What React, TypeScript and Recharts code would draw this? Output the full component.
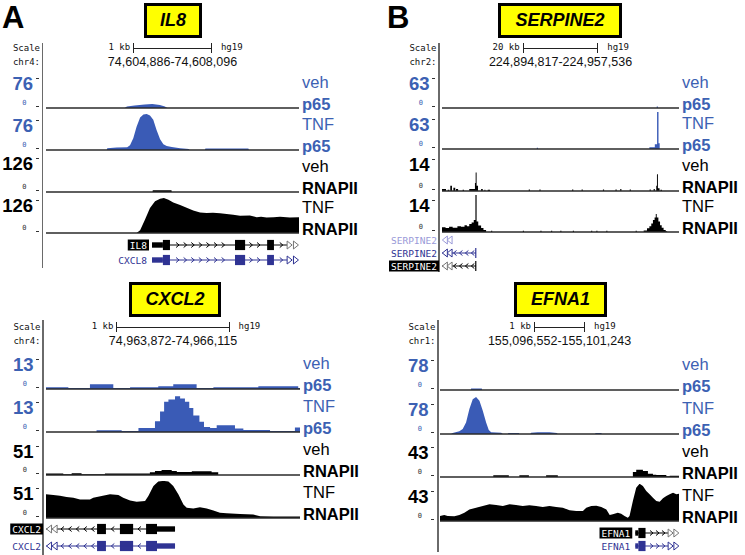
import React from 'react';
import {
  AreaChart,
  Area,
  XAxis,
  YAxis,
  ReferenceLine,
  ReferenceArea,
  ComposedChart,
  Scatter,
} from 'recharts';

type Pt = [number, number];

// ---------- signal data: [position % of window, signal] ----------
const IL8_VEH_P65: Pt[] = [[0, 0], [31, 0], [32, 3], [35, 5], [39, 7], [42, 8], [45, 6], [47, 3], [48, 0], [100, 0]];
const IL8_TNF_P65: Pt[] = [[0, 0], [24, 0], [24.2, 3.4], [27.9, 5], [32.1, 5.5], [33.2, 10], [34.5, 24], [35.8, 48], [37.2, 67], [38.5, 73], [39.8, 74], [41.1, 71], [42.4, 62], [43.7, 41], [45.1, 22], [46.4, 12], [47.7, 8], [49.7, 6], [53, 3.4], [56.5, 2], [56.7, 0], [62.8, 0], [63, 3], [80, 3], [80.2, 0], [100, 0]];
const IL8_VEH_POL2: Pt[] = [[0, 0], [42.1, 0], [42.2, 6], [49.6, 6], [49.7, 0], [100, 0]];
const IL8_TNF_POL2: Pt[] = [[0, 0], [35.8, 0], [37.2, 9], [39.1, 45], [41.1, 85], [43.1, 108], [45.1, 117], [46.6, 119], [48.4, 113], [50.3, 104], [53, 95], [55.6, 86], [58.2, 77], [60.9, 70], [63.5, 68], [66, 69], [68.8, 67], [71.4, 65], [74, 62], [76.7, 59], [80.6, 60], [83.3, 54], [85, 55], [87.2, 53], [90, 54], [92.5, 55], [96.4, 53], [100, 54]];

const SERP_VEH_P65: Pt[] = [[0, 0], [90.6, 2.5], [91.1, 0], [100, 0]];
const SERP_TNF_P65: Pt[] = [[0, 0], [40.0, 2], [40.5, 0], [87.5, 3], [89.8, 8], [90.75, 63], [91.35, 10], [91.85, 0], [100, 0]];
const SERP_VEH_POL2: Pt[] = [[0, 0.8], [1.7, 0], [2.4, 0.5], [3.1, 0], [3.5, 2], [4.2, 0], [4.8, 1.2], [5.6, 0], [5.9, 0.8], [6.8, 0], [8.7, 0.5], [9.3, 0], [11.5, 0.8], [13.9, 3], [14.2, 7], [14.6, 2], [15.2, 0], [16.5, 0.8], [17.2, 0], [17.9, 0.5], [18.3, 0], [19.3, 0.5], [20.3, 0], [36.6, 0.6], [37.1, 0], [41.1, 0.6], [41.6, 0], [54.9, 0.6], [55.4, 0], [58.9, 0.6], [59.4, 0], [67.9, 0.6], [68.4, 0], [73.2, 0.6], [73.7, 0], [75.2, 0.8], [75.7, 0], [79.2, 0.6], [79.7, 0], [87.6, 0.6], [88.1, 0], [89.3, 0.8], [89.8, 0], [90.4, 2], [90.7, 6.3], [91.1, 1], [91.8, 0], [92.2, 0.5], [92.8, 0], [100, 0]];
const SERP_TNF_POL2: Pt[] = [[0, 1.8], [1.5, 1.5], [3, 2], [4.5, 1.6], [6.5, 2.2], [8, 2], [9.5, 2.6], [10.5, 2.2], [11.5, 3], [12.5, 3.6], [13.4, 4.5], [14.1, 14], [14.6, 4], [15.3, 2.5], [16.5, 1.5], [17.5, 0.8], [18.6, 0], [20.7, 0.5], [21.2, 0], [34.1, 0.5], [34.6, 0], [41.5, 0.5], [42, 0], [46, 0.5], [46.5, 0], [49.9, 0.5], [50.4, 0], [55.2, 0.5], [55.7, 0], [62.9, 0.5], [63.4, 0], [65.1, 0.5], [65.6, 0], [69.3, 0.5], [69.8, 0], [81.7, 0.5], [82.2, 0], [85.1, 0.6], [86.5, 1.4], [87.5, 2.2], [88.3, 3.2], [89, 4.5], [89.7, 5.5], [90.2, 6.8], [90.6, 5.5], [91.3, 4], [92, 2.6], [92.7, 1.6], [93.5, 0.8], [94.4, 0.3], [95, 0], [100, 0]];

const CXCL2_VEH_P65: Pt[] = [[0, 0.6], [8.8, 0.36], [17.3, 1.7], [26.5, 0.36], [33.1, 0.6], [44.2, 1.0], [50.1, 1.7], [59.3, 0.36], [65.9, 0.6], [83.6, 1.0], [99.3, 0.36], [100, 0.36]];
const CXCL2_TNF_P65: Pt[] = [[0, 0], [19.9, 0.6], [29.8, 0.36], [36.4, 1.4], [42.9, 3.8], [44.9, 7.2], [46.5, 10.6], [48.2, 11.4], [50.8, 12.6], [52.8, 11.8], [54.7, 10.6], [56.4, 8.4], [58.0, 5.8], [60.4, 3.6], [62.2, 1.8], [64.6, 1.4], [67.2, 2.4], [74.4, 1.2], [77.7, 0.7], [88.2, 0.36], [98.0, 1.6], [100, 1.6]];
const CXCL2_VEH_POL2: Pt[] = [[0, 1.9], [6.8, 0.9], [10.1, 2.3], [14.0, 0.9], [23.2, 1.9], [40.9, 3.7], [42.9, 5.6], [45.5, 7], [49.5, 5.6], [51.5, 4.2], [57.4, 5.1], [65.2, 3.7], [67.8, 0], [100, 0]];
const CXCL2_TNF_POL2: Pt[] = [[0, 32.6], [2.9, 31.6], [5.5, 30.7], [8.1, 28.8], [10.8, 27.9], [13.4, 25.6], [17.3, 25.6], [18.6, 27.9], [21.9, 30.2], [25.2, 32.6], [28.5, 31.6], [30.4, 27.9], [33.1, 24.2], [35.7, 22.3], [39.0, 23.3], [40.3, 30.2], [42.3, 44.2], [44.2, 50.2], [46.2, 51.2], [48.2, 50.2], [50.1, 44.2], [52.1, 32.6], [54.1, 18.6], [55.4, 14], [58.0, 13], [60.6, 14.9], [63.3, 13], [65.9, 10.2], [68.5, 7.4], [71.1, 6.5], [76.4, 5.6], [81.6, 4.7], [84.3, 2.3], [89.5, 1.9], [100, 1.9]];

const EFNA1_VEH_P65: Pt[] = [[0, 0], [12.9, 0], [13.0, 3], [17.5, 3], [17.6, 0], [100, 0]];
const EFNA1_TNF_P65: Pt[] = [[0, 0], [4.6, 0], [5.3, 2.1], [8.1, 5.6], [9.5, 10.5], [10.9, 24.5], [12.3, 52.5], [13.7, 73.5], [15.1, 78], [16.5, 70], [17.9, 49], [19.3, 24.5], [20.4, 8.4], [21.4, 3.5], [25.6, 2.8], [26.3, 0], [28.4, 0], [28.6, 2.1], [33.0, 2.1], [33.2, 0], [37.8, 0], [38.1, 2.8], [40.9, 3.5], [45.8, 3.5], [48.9, 2.1], [49.2, 0], [64.9, 0], [65.1, 2.1], [67.5, 2.1], [67.7, 0], [100, 0]];
const EFNA1_VEH_POL2: Pt[] = [[0, 0], [22.3, 1.9], [28.8, 0], [33.2, 1.9], [37.2, 0], [44.4, 1.9], [49.3, 0], [80.7, 5.8], [82.1, 8.5], [84.9, 7], [87.0, 3.9], [89.1, 2.7], [90.5, 2.3], [94.7, 0.8], [96.1, 1.5], [100, 1.5]];
const EFNA1_TNF_POL2: Pt[] = [[0, 5.8], [1.8, 7], [3.2, 5.8], [6.0, 5.4], [8.1, 7], [10.2, 9.7], [12.3, 13.5], [15.1, 15.5], [17.9, 17.4], [20.7, 19.4], [23.5, 18.6], [26.3, 17.4], [29.1, 19.4], [31.8, 18.6], [34.6, 17.4], [37.4, 18.2], [40.2, 17.4], [43.0, 16.3], [45.8, 17.4], [48.6, 16.3], [51.4, 15.5], [54.2, 12.4], [57.0, 11.6], [59.8, 11.6], [61.2, 15.5], [63.3, 17.4], [65.4, 17.8], [67.5, 16.3], [69.6, 13.5], [71.0, 7], [72.3, 7.7], [74.4, 9.7], [75.8, 8.5], [77.2, 5.8], [78.6, 3.9], [79.3, 5.8], [80.7, 23.2], [82.1, 38.7], [83.5, 43.3], [84.9, 40.6], [86.3, 34.8], [87.7, 31], [89.1, 27.1], [90.5, 23.2], [91.9, 22.4], [93.3, 26.3], [94.7, 29], [96.1, 31], [97.5, 32.9], [98.9, 31], [100, 31.7]];

// ---------- labels ----------
const TRACK_TOP = ['veh', 'TNF', 'veh', 'TNF'];
const TRACK_BOTTOM = ['p65', 'p65', 'RNAPII', 'RNAPII'];

const FONT = '"Liberation Sans", Arial, sans-serif';
const MONO = '"DejaVu Sans Mono", monospace';
const BLUE_FILL = '#3a5bb6';
const BLUE_TEXT = '#3c61b3';
const GENE_BLUE = '#2f3393';
const GENE_LIGHT = '#9a9ad8';

interface GeneDef {
  label: string;
  mode: 'box' | 'text';
  color: string;
  strand: 1 | -1;
  line?: [number, number];
  utrs: Pt[];
  exons: Pt[];
  chevrons: number[];
  ends: number[];
}

const IL8_GENE = { line: [41.9, 97] as [number, number], utrs: [[41.9, 46.2]] as Pt[], exons: [[46.2, 49.0], [74.7, 78.7], [87.4, 90.1]] as Pt[], chevrons: [52, 55, 58, 61, 64, 67, 70, 81, 84, 93], ends: [96.3, 98.8], strand: 1 as const };
const SERP_GENE = { line: [0, 14.3] as [number, number], utrs: [] as Pt[], exons: [[14.0, 14.5]] as Pt[], chevrons: [5.5, 8, 10.5, 13], ends: [1.2, 3.2], strand: -1 as const };
const CXCL2_GENE = { line: [0, 43.7] as [number, number], utrs: [[43.7, 50.8]] as Pt[], exons: [[20.1, 23.6], [29.1, 34.3], [39.4, 43.7]] as Pt[], chevrons: [6.5, 9.5, 12.5, 15.5, 18.5, 26.3, 36.8], ends: [1.2, 3.4], strand: -1 as const };
const EFNA1_GENE = { line: [81.7, 97] as [number, number], utrs: [[81.7, 83.0]] as Pt[], exons: [[83.0, 86.0]] as Pt[], chevrons: [88.5, 91, 93.5], ends: [96.5, 98.9], strand: 1 as const };

interface PanelDef {
  letter?: string;
  gene: string;
  topY: number;
  letterX: number;
  axisX: number;
  axisTop: number;
  axisBottom: number;
  trackX: number;
  trackW: number;
  baselines: number[];
  numOffsets: number[];
  boxX: number;
  boxW: number;
  chr: string;
  coords: string;
  span: number;
  scaleKb: number;
  maxes: number[];
  tracks: Pt[][];
  curves: string[];
  geneY: number[];
  genes: GeneDef[];
}

const PANELS: PanelDef[] = [
  {
    letter: 'A', gene: 'IL8', topY: 0, letterX: 2, axisX: 42.5, axisTop: 43, axisBottom: 268,
    trackX: 46, trackW: 253, baselines: [108, 150, 192, 233], numOffsets: [24, 24, 28, 27], boxX: 144, boxW: 58,
    chr: 'chr4:', coords: '74,604,886-74,608,096', span: 3211, scaleKb: 1,
    maxes: [76, 76, 126, 126], tracks: [IL8_VEH_P65, IL8_TNF_P65, IL8_VEH_POL2, IL8_TNF_POL2],
    curves: ['linear', 'linear', 'linear', 'linear'], geneY: [245, 260],
    genes: [
      { label: 'IL8', mode: 'box', color: '#000', ...IL8_GENE },
      { label: 'CXCL8', mode: 'text', color: GENE_BLUE, ...IL8_GENE },
    ],
  },
  {
    letter: 'B', gene: 'SERPINE2', topY: 0, letterX: 387, axisX: 439, axisTop: 43, axisBottom: 272,
    trackX: 442, trackW: 237, baselines: [108, 149, 191, 232], numOffsets: [24, 24, 26, 26], boxX: 498, boxW: 124,
    chr: 'chr2:', coords: '224,894,817-224,957,536', span: 62720, scaleKb: 20,
    maxes: [63, 63, 14, 14], tracks: [SERP_VEH_P65, SERP_TNF_P65, SERP_VEH_POL2, SERP_TNF_POL2],
    curves: ['stepAfter', 'stepAfter', 'stepAfter', 'stepAfter'], geneY: [240, 253, 266],
    genes: [
      { label: 'SERPINE2', mode: 'text', color: GENE_LIGHT, utrs: [], exons: [], chevrons: [], ends: [1.2, 3.2], strand: -1 },
      { label: 'SERPINE2', mode: 'text', color: GENE_BLUE, ...SERP_GENE },
      { label: 'SERPINE2', mode: 'box', color: '#000', ...SERP_GENE },
    ],
  },
  {
    gene: 'CXCL2', topY: 279, letterX: 0, axisX: 43, axisTop: 320, axisBottom: 555,
    trackX: 46, trackW: 254, baselines: [389, 432, 475, 518], numOffsets: [24, 24, 23, 24], boxX: 129, boxW: 92,
    chr: 'chr4:', coords: '74,963,872-74,966,115', span: 2244, scaleKb: 1,
    maxes: [13, 13, 51, 51], tracks: [CXCL2_VEH_P65, CXCL2_TNF_P65, CXCL2_VEH_POL2, CXCL2_TNF_POL2],
    curves: ['stepAfter', 'stepAfter', 'stepAfter', 'linear'], geneY: [529, 546],
    genes: [
      { label: 'CXCL2', mode: 'box', color: '#000', ...CXCL2_GENE },
      { label: 'CXCL2', mode: 'text', color: GENE_BLUE, ...CXCL2_GENE },
    ],
  },
  {
    gene: 'EFNA1', topY: 279, letterX: 0, axisX: 438, axisTop: 320, axisBottom: 552,
    trackX: 440, trackW: 239, baselines: [390, 434, 477, 521], numOffsets: [24, 24, 24, 24], boxX: 514, boxW: 93,
    chr: 'chr1:', coords: '155,096,552-155,101,243', span: 4692, scaleKb: 1,
    maxes: [78, 78, 43, 43], tracks: [EFNA1_VEH_P65, EFNA1_TNF_P65, EFNA1_VEH_POL2, EFNA1_TNF_POL2],
    curves: ['linear', 'linear', 'stepAfter', 'linear'], geneY: [533, 546],
    genes: [
      { label: 'EFNA1', mode: 'box', color: '#000', ...EFNA1_GENE },
      { label: 'EFNA1', mode: 'text', color: GENE_BLUE, ...EFNA1_GENE },
    ],
  },
];

// ---------- helpers ----------
function Txt({ x, y, align = 'left', style, children }: any) {
  const tx = align === 'left' ? '0' : align === 'right' ? '-100%' : '-50%';
  return (
    <div
      style={{
        position: 'absolute',
        left: x,
        top: y,
        transform: `translate(${tx},-50%)`,
        whiteSpace: 'nowrap',
        lineHeight: 1,
        ...style,
      }}
    >
      {children}
    </div>
  );
}

function Track({ x, w, baseline, data, max, color, curve }: any) {
  const rows = data.map(([px, v]: Pt) => ({ x: px, v }));
  return (
    <div style={{ position: 'absolute', left: x, top: baseline - 38 }}>
      <AreaChart width={w} height={40} data={rows} margin={{ top: 1, right: 0, bottom: 2, left: 0 }}>
        <XAxis dataKey="x" type="number" domain={[0, 100]} hide />
        <YAxis type="number" domain={[0, max]} hide allowDataOverflow />
        <Area
          dataKey="v"
          type={curve}
          stroke="none"
          fill={color}
          fillOpacity={1}
          isAnimationActive={false}
          dot={false}
          activeDot={false}
        />
        <ReferenceLine y={0} stroke="#2a2a2a" strokeWidth={1.5} />
      </AreaChart>
    </div>
  );
}

const LBL = 64;

function GeneRow({ x, w, y, g }: { x: number; w: number; y: number; g: GeneDef }) {
  const start = g.line ? g.line[0] : 0;
  const chev = g.chevrons.map((c) => ({ x: c, y: 0 }));
  const ends = g.ends.map((c) => ({ x: c, y: 0 }));
  const lab = [{ x: start, y: 0 }];
  const s = g.strand;
  const chevShape = (p: any) => (
    <path
      d={`M${p.cx - 1.5 * s},${p.cy - 2.5} L${p.cx + 1.5 * s},${p.cy} L${p.cx - 1.5 * s},${p.cy + 2.5}`}
      fill="none"
      stroke={g.color}
      strokeWidth={1}
    />
  );
  const endShape = (p: any) => (
    <path
      d={`M${p.cx - 2.5 * s},${p.cy - 4} L${p.cx + 2.5 * s},${p.cy} L${p.cx - 2.5 * s},${p.cy + 4} Z`}
      fill="#fff"
      stroke={g.mode === 'box' ? '#777' : g.color}
      strokeWidth={1}
    />
  );
  const labelShape = (p: any) => {
    const tw = g.label.length * 5.75 + 4;
    const right = p.cx - 3;
    return (
      <g>
        {g.mode === 'box' && <rect x={right - tw} y={p.cy - 5.5} width={tw} height={11} fill="#000" />}
        <text
          x={right - tw / 2}
          y={p.cy + 0.5}
          textAnchor="middle"
          dominantBaseline="central"
          fontFamily={MONO}
          fontSize={9.5}
          fill={g.mode === 'box' ? '#fff' : g.color}
        >
          {g.label}
        </text>
      </g>
    );
  };
  return (
    <div style={{ position: 'absolute', left: x - LBL, top: y - 7 }}>
      <ComposedChart width={w + LBL} height={14} margin={{ top: 1, bottom: 1, left: LBL, right: 0 }}>
        <XAxis dataKey="x" type="number" domain={[0, 100]} hide />
        <YAxis dataKey="y" type="number" domain={[-1, 1]} hide />
        {g.line && (
          <ReferenceLine
            segment={[{ x: g.line[0], y: 0 }, { x: g.line[1], y: 0 }]}
            stroke={g.color}
            strokeWidth={1}
          />
        )}
        {g.utrs.map(([a, b], i) => (
          <ReferenceArea key={'u' + i} x1={a} x2={b} y1={-0.45} y2={0.45} fill={g.color} fillOpacity={1} stroke="none" />
        ))}
        {g.exons.map(([a, b], i) => (
          <ReferenceArea key={'e' + i} x1={a} x2={b} y1={-0.85} y2={0.85} fill={g.color} fillOpacity={1} stroke="none" />
        ))}
        <Scatter data={chev} dataKey="y" shape={chevShape} isAnimationActive={false} />
        <Scatter data={ends} dataKey="y" shape={endShape} isAnimationActive={false} />
        <Scatter data={lab} dataKey="y" shape={labelShape} isAnimationActive={false} />
      </ComposedChart>
    </div>
  );
}

function Panel({ p }: { p: PanelDef }) {
  const center = p.trackX + p.trackW / 2;
  const barW = ((p.scaleKb * 1000) / p.span) * p.trackW;
  const barL = center - barW / 2;
  const labelX = p.trackX + p.trackW + 3;
  const mono9 = { fontFamily: MONO, fontSize: 9, color: '#111' };
  return (
    <>
      {p.letter && (
        <div
          style={{
            position: 'absolute',
            left: p.letterX,
            top: p.topY + 2,
            fontSize: 31,
            fontWeight: 700,
            lineHeight: '31px',
            fontFamily: FONT,
          }}
        >
          {p.letter}
        </div>
      )}
      <div
        style={{
          position: 'absolute',
          left: p.boxX,
          top: p.topY + 3,
          width: p.boxW,
          height: 35,
          boxSizing: 'border-box',
          border: '3px solid #000',
          background: '#ffff00',
          display: 'flex',
          alignItems: 'center',
          justifyContent: 'center',
          fontFamily: FONT,
          fontWeight: 700,
          fontStyle: 'italic',
          fontSize: 18,
        }}
      >
        {p.gene}
      </div>
      <Txt x={p.axisX - 2.5} y={p.topY + 48} align="right" style={mono9}>Scale</Txt>
      <Txt x={p.axisX - 2.5} y={p.topY + 62} align="right" style={mono9}>{p.chr}</Txt>
      <Txt x={barL - 3} y={p.topY + 47} align="right" style={mono9}>{p.scaleKb} kb</Txt>
      <div
        style={{
          position: 'absolute',
          left: barL,
          top: p.topY + 43,
          width: barW,
          height: 10,
          boxSizing: 'border-box',
          borderLeft: '1px solid #222',
          borderRight: '1px solid #222',
        }}
      >
        <div style={{ position: 'absolute', left: 0, right: 0, top: 4.5, height: 1, background: '#222' }} />
      </div>
      <Txt x={barL + barW + 9} y={p.topY + 47} style={mono9}>hg19</Txt>
      <Txt x={center} y={p.topY + 62} align="center" style={{ fontFamily: FONT, fontSize: 12.5, color: '#111' }}>
        {p.coords}
      </Txt>
      <div
        style={{
          position: 'absolute',
          left: p.axisX - 0.75,
          top: p.axisTop,
          width: 1.5,
          height: p.axisBottom - p.axisTop,
          background: '#6a6a6a',
        }}
      />
      {p.tracks.map((d, i) => {
        const isBlue = i < 2;
        const col = isBlue ? BLUE_TEXT : '#000';
        const b = p.baselines[i];
        const off = p.numOffsets[i];
        return (
          <React.Fragment key={i}>
            <Track
              x={p.trackX}
              w={p.trackW}
              baseline={b}
              data={d}
              max={p.maxes[i]}
              color={isBlue ? BLUE_FILL : '#000'}
              curve={p.curves[i]}
            />
            <Txt x={p.axisX - 9.5} y={b - off} align="right" style={{ fontFamily: FONT, fontWeight: 700, fontSize: 18.5, color: col, lineHeight: 0.8 }}>
              {p.maxes[i]}
            </Txt>
            <div style={{ position: 'absolute', left: p.axisX - 7, top: b - off - 6, width: 3, height: 1, background: '#333' }} />
            <Txt x={p.axisX - 16} y={b - 5} align="right" style={{ fontFamily: MONO, fontSize: 7, color: isBlue ? BLUE_TEXT : '#333' }}>
              0
            </Txt>
            <div style={{ position: 'absolute', left: p.axisX - 7, top: b - 2, width: 3, height: 1, background: '#333' }} />
            <Txt x={labelX} y={b - 25.5} style={{ fontFamily: FONT, fontSize: 16.5, color: col, lineHeight: 0.8 }}>
              {TRACK_TOP[i]}
            </Txt>
            <Txt x={labelX} y={b - 3.5} style={{ fontFamily: FONT, fontSize: 16.5, fontWeight: 700, color: col, lineHeight: 0.8 }}>
              {TRACK_BOTTOM[i]}
            </Txt>
          </React.Fragment>
        );
      })}
      {p.genes.map((g, i) => (
        <GeneRow key={i} x={p.trackX} w={p.trackW} y={p.geneY[i]} g={g} />
      ))}
    </>
  );
}

export default function App() {
  return (
    <div
      style={{
        position: 'absolute',
        left: 0,
        top: 0,
        width: 745,
        height: 555,
        background: '#fff',
        overflow: 'hidden',
        fontFamily: FONT,
      }}
    >
      {PANELS.map((p) => (
        <Panel key={p.gene} p={p} />
      ))}
    </div>
  );
}
